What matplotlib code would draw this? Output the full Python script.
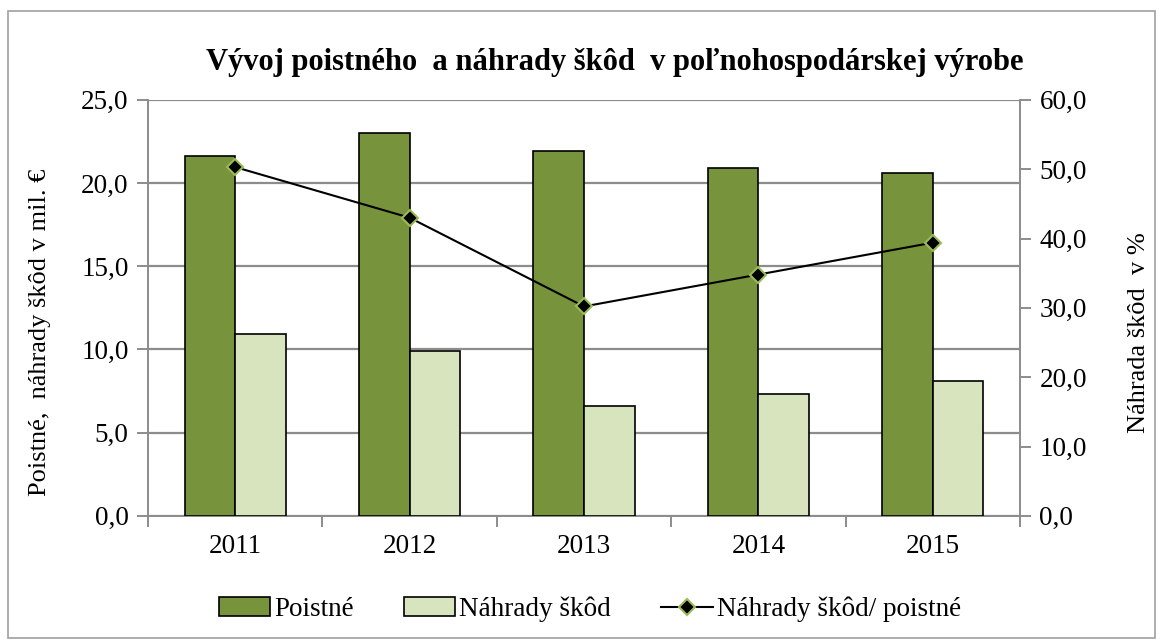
import matplotlib.pyplot as plt
import numpy as np
from matplotlib.patches import Rectangle
from matplotlib.ticker import FuncFormatter, FixedLocator

plt.rcParams["font.family"] = ["Liberation Serif", "DejaVu Serif"]

# Údaje
roky = ["2011", "2012", "2013", "2014", "2015"]
poistne = [21.6, 23.0, 21.9, 20.9, 20.6]
nahrady = [10.9, 9.9, 6.6, 7.3, 8.1]
podiel = [50.3, 43.0, 30.2, 34.8, 39.4]

c_poistne = "#77933C"
c_nahrady = "#D7E4BD"
c_grid = "#8C8C8C"

fig = plt.figure(figsize=(11.63, 6.40), dpi=100)
fig.patches.append(Rectangle((0.007, 0.003), 0.986, 0.98, transform=fig.transFigure,
                             fill=False, edgecolor="#A0A0A0", lw=1.2))

ax = fig.add_axes([0.1273, 0.194, 0.7497, 0.650])
x = np.arange(len(roky))
w = 0.29

ax.bar(x - w / 2, poistne, w, color=c_poistne, edgecolor="black", lw=1.2,
       label="Poistné", zorder=3)
ax.bar(x + w / 2, nahrady, w, color=c_nahrady, edgecolor="black", lw=1.2,
       label="Náhrady škôd", zorder=3)

fmt = FuncFormatter(lambda v, p: f"{v:.1f}".replace(".", ","))

ax.set_xlim(-0.5, len(roky) - 0.5)
ax.set_ylim(0, 25)
ax.set_yticks(np.arange(0, 25.1, 5))
ax.yaxis.set_major_formatter(fmt)
ax.yaxis.grid(True, color=c_grid, lw=1.6, zorder=0)
ax.set_axisbelow(True)

ax.set_xticks(x)
ax.set_xticklabels(roky)
ax.xaxis.set_minor_locator(FixedLocator(np.arange(-0.5, len(roky), 1)))
ax.tick_params(axis="x", which="major", length=0, labelsize=19.5, pad=13)
ax.tick_params(axis="x", which="minor", length=8, width=1.4, color=c_grid, direction="out")
ax.tick_params(axis="y", length=8, width=1.4, color=c_grid, labelsize=19.5, pad=6)

for s in ["left", "bottom", "right"]:
    ax.spines[s].set_color(c_grid)
    ax.spines[s].set_linewidth(1.4)
ax.spines["top"].set_visible(False)

ax2 = ax.twinx()
ax2.plot(x, podiel, color="black", lw=1.5, marker="D", markersize=8.5,
         markerfacecolor="black", markeredgecolor="#9BBB59", markeredgewidth=1.5,
         label="Náhrady škôd/ poistné", zorder=4)
ax2.set_ylim(0, 60)
ax2.set_yticks(np.arange(0, 60.1, 10))
ax2.yaxis.set_major_formatter(fmt)
ax2.tick_params(axis="y", length=8, width=1.4, color=c_grid, labelsize=19.5, pad=6)
for s in ["left", "bottom", "right", "top"]:
    ax2.spines[s].set_visible(False)

ax.set_ylabel("Poistné,  náhrady škôd v mil. €", fontsize=19)
ax.yaxis.set_label_coords(-0.111, 0.44)
ax2.set_ylabel("Náhrada škôd  v %", fontsize=19)
ax2.yaxis.set_label_coords(1.124, 0.44)

fig.text(0.529, 0.903, "Vývoj poistného  a náhrady škôd  v poľnohospodárskej výrobe",
         ha="center", va="center", fontsize=22, fontweight="bold")

h1, l1 = ax.get_legend_handles_labels()
h2, l2 = ax2.get_legend_handles_labels()
fig.legend(h1 + h2, l1 + l2, loc="center", bbox_to_anchor=(0.507, 0.048), ncol=3,
           frameon=False, fontsize=19.5, handlelength=1.9, handletextpad=0.15,
           columnspacing=1.85)

fig.savefig("out.png", dpi=100)
